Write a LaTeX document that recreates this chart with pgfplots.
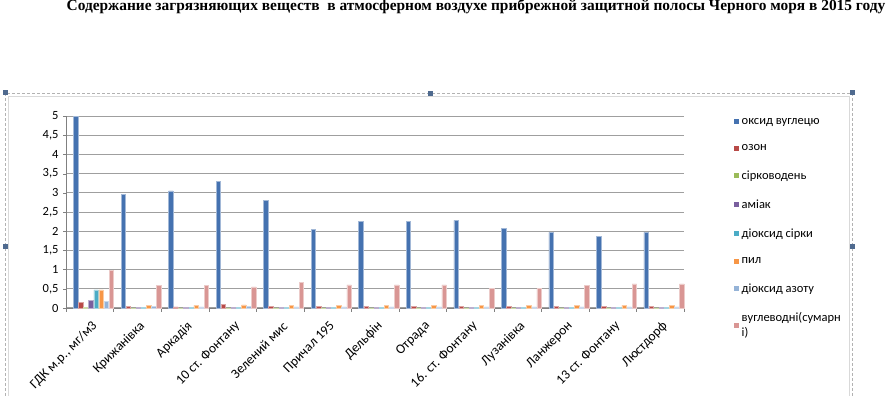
\documentclass[border=0pt]{standalone}
\usepackage{fontspec}
\setmainfont{Carlito}
\newfontfamily\titlefont{Liberation Serif}
\usepackage{pgfplots}
\pgfplotsset{compat=1.18}
\definecolor{c1}{HTML}{4572B0}
\definecolor{c2}{HTML}{B84A47}
\definecolor{c3}{HTML}{9BBB59}
\definecolor{c4}{HTML}{7A5F9E}
\definecolor{c5}{HTML}{4BACC6}
\definecolor{c6}{HTML}{F79646}
\definecolor{c7}{HTML}{95B3D7}
\definecolor{c8}{HTML}{D99694}
\definecolor{handle}{HTML}{4F6A8F}
\begin{document}
\begin{tikzpicture}[x=1pt,y=1pt]
\useasboundingbox (0pt,0pt) rectangle (892pt,396pt);
% chart selection frame
\draw[gray!60, densely dashed, line width=0.6pt] (5pt,-5pt) -- (5pt,303pt) -- (852pt,303pt) -- (852pt,-5pt);
\draw[gray!30, line width=0.4pt] (8pt,-5pt) -- (8pt,300pt) -- (849pt,300pt) -- (849pt,-5pt);
\foreach \p in {(5pt,303pt),(430pt,302pt),(852pt,303pt),(5pt,149pt),(852pt,149pt)}
  \fill[handle] \p ++(-2.5pt,-2.5pt) rectangle ++(5pt,5pt);
% title
\node[anchor=base, inner sep=0pt] at (476pt,385pt) {\titlefont\bfseries\fontsize{15.4}{18}\selectfont Содержание загрязняющих веществ~ в атмосферном воздухе прибрежной защитной полосы Черного моря в 2015 году};
\begin{axis}[
  at={(66pt,88pt)}, anchor=south west, scale only axis,
  width=618pt, height=192pt,
  xmin=-0.5, xmax=12.5, ymin=0, ymax=5,
  axis x line*=bottom, axis y line*=left,
  axis line style={gray, line width=0.8pt},
  ytick={0,0.5,...,5},
  yticklabel style={font=\fontsize{12.5}{14}\selectfont, xshift=-1pt},
  /pgf/number format/.cd, use comma, fixed, assume math mode=true,
  /pgfplots/.cd,
  ymajorgrids, grid style={gray!75, line width=1pt},
  tick align=outside, major tick length=3pt,
  ytick style={gray},
  xtick={0,...,12},
  major x tick style={draw=none},
  minor xtick={-0.5,0.5,...,12.5},
  minor x tick style={gray},
  minor tick length=4pt,
  xticklabels={{ГДК м.р., мг/м3},Крижанівка,Аркадія,10 ст. Фонтану,Зелений мис,Причал 195,Дельфін,Отрада,16. ст. Фонтану,Лузанівка,Ланжерон,13 ст. Фонтану,Люстдорф},
  xticklabel style={font=\fontsize{13.5}{15}\selectfont, rotate=45, anchor=east, xshift=-2pt, yshift=-13pt},
  legend image code/.code={\fill[#1,draw=none] (0pt,-2.5pt) rectangle (5pt,2.5pt);},
  legend style={at={(1,1)}, anchor=north west, xshift=50pt, yshift=0pt, draw=none, fill=none, inner sep=0pt,
    row sep=14.8pt, font=\fontsize{12.5}{15}\selectfont, cells={anchor=west, align=left},
    nodes={inner xsep=2.5pt}},
  legend cell align=left,
  clip=false,
]
\addplot[ybar, bar width=4.5pt, bar shift=-14pt, fill=c1, draw=c1!50!white, line width=0.6pt] coordinates {(0,5) (1,2.95) (2,3.05) (3,3.3) (4,2.8) (5,2.05) (6,2.25) (7,2.25) (8,2.28) (9,2.07) (10,1.97) (11,1.87) (12,1.97)};
\addplot[ybar, bar width=4.5pt, bar shift=-8.9pt, fill=c2, draw=c2!50!white, line width=0.6pt] coordinates {(0,0.15) (1,0.04) (2,0.03) (3,0.1) (4,0.04) (5,0.04) (6,0.04) (7,0.04) (8,0.04) (9,0.04) (10,0.04) (11,0.04) (12,0.04)};
\addplot[ybar, bar width=4.5pt, bar shift=-3.9pt, fill=c3, draw=c3!50!white, line width=0.6pt] coordinates {(0,0.008) (1,0.002) (2,0.002) (3,0.002) (4,0.002) (5,0.002) (6,0.002) (7,0.002) (8,0.002) (9,0.002) (10,0.002) (11,0.002) (12,0.002)};
\addplot[ybar, bar width=4.5pt, bar shift=1.2pt, fill=c4, draw=c4!50!white, line width=0.6pt] coordinates {(0,0.2) (1,0.01) (2,0.01) (3,0.01) (4,0.01) (5,0.01) (6,0.01) (7,0.01) (8,0.01) (9,0.01) (10,0.01) (11,0.01) (12,0.01)};
\addplot[ybar, bar width=4.5pt, bar shift=6.3pt, fill=c5, draw=c5!50!white, line width=0.6pt] coordinates {(0,0.47) (1,0.01) (2,0.01) (3,0.01) (4,0.01) (5,0.01) (6,0.01) (7,0.01) (8,0.01) (9,0.01) (10,0.01) (11,0.01) (12,0.01)};
\addplot[ybar, bar width=4.5pt, bar shift=11.4pt, fill=c6, draw=c6!50!white, line width=0.6pt] coordinates {(0,0.47) (1,0.07) (2,0.07) (3,0.08) (4,0.07) (5,0.07) (6,0.07) (7,0.07) (8,0.07) (9,0.07) (10,0.07) (11,0.07) (12,0.07)};
\addplot[ybar, bar width=4.5pt, bar shift=16.5pt, fill=c7, draw=c7!50!white, line width=0.6pt] coordinates {(0,0.17) (1,0.04) (2,0.03) (3,0.04) (4,0.03) (5,0.03) (6,0.03) (7,0.03) (8,0.03) (9,0.03) (10,0.03) (11,0.03) (12,0.03)};
\addplot[ybar, bar width=4.5pt, bar shift=21.6pt, fill=c8, draw=c8!50!white, line width=0.6pt] coordinates {(0,0.97) (1,0.58) (2,0.58) (3,0.55) (4,0.67) (5,0.6) (6,0.6) (7,0.6) (8,0.52) (9,0.52) (10,0.58) (11,0.63) (12,0.63)};
\legend{оксид вуглецю,озон,сірководень,аміак,діоксид сірки,пил,діоксид азоту,вуглеводні(сумарн\\і)}
\end{axis}
\end{tikzpicture}
\end{document}
